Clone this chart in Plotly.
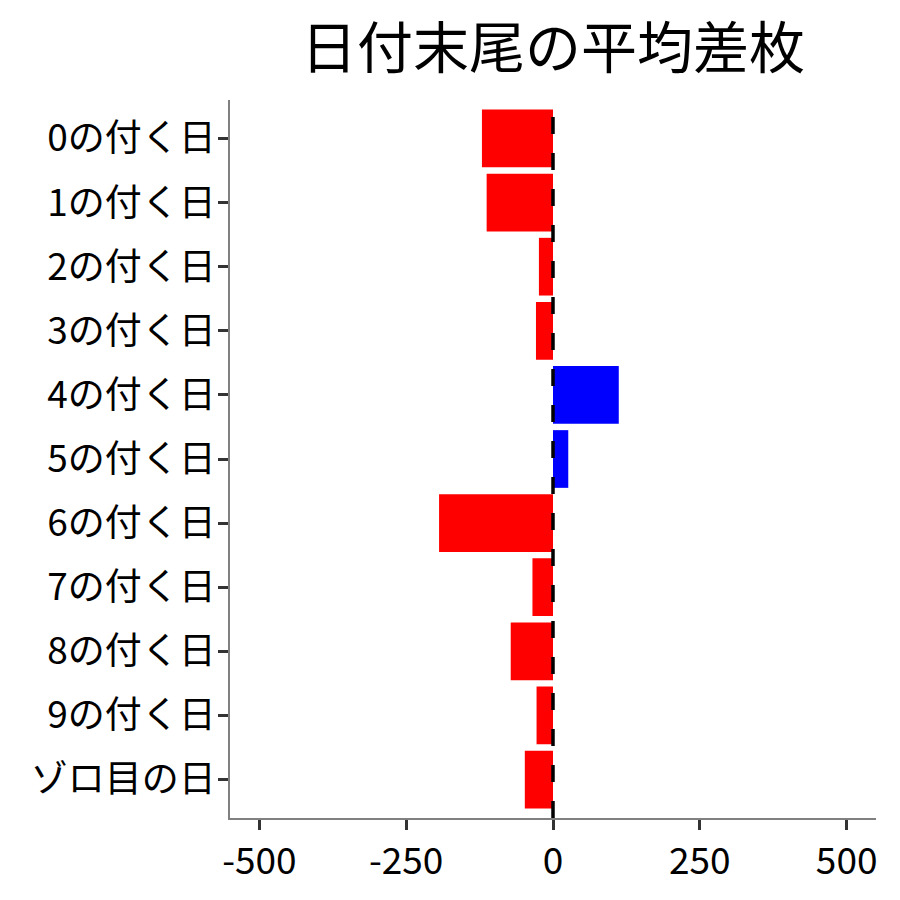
import plotly.graph_objects as go

categories = ["0の付く日", "1の付く日", "2の付く日", "3の付く日", "4の付く日",
              "5の付く日", "6の付く日", "7の付く日", "8の付く日", "9の付く日", "ゾロ目の日"]
values = [-121, -113, -24, -29, 112, 26, -194, -35, -72, -28, -48]
tick_vals = [-500, -250, 0, 250, 500]
tick_text = ["-500", "-250", "0", "250", "500"]
title_text = "日付末尾の平均差枚"

colors = ["#0000FF" if v > 0 else "#FF0000" for v in values]

FONT = "Noto Sans CJK JP"

fig = go.Figure()
fig.add_trace(go.Bar(
    x=values, y=categories, orientation="h",
    marker=dict(color=colors, line=dict(width=0)),
    width=0.9, showlegend=False,
))

fig.add_shape(type="line", xref="x", yref="paper", x0=0, x1=0, y0=0, y1=1,
              line=dict(color="black", width=3.5, dash="17px,19px"), layer="above")

fig.update_layout(
    width=892, height=892,
    paper_bgcolor="white", plot_bgcolor="white",
    margin=dict(l=222, r=24, t=92, b=82),
    font=dict(family=FONT, color="black"),
    title=dict(text=title_text, x=0.5, xref="paper", xanchor="center",
               y=1 - 40 / 892, yanchor="middle", font=dict(size=56, family=FONT, color="black")),
    bargap=0.1,
)
fig.update_xaxes(
    range=[-550, 550], tickvals=tick_vals, ticktext=tick_text,
    showgrid=False, zeroline=False,
    showline=True, linecolor="#808080", linewidth=1.5,
    ticks="outside", ticklen=10, tickwidth=3, tickcolor="#333333",
    tickfont=dict(size=37, family=FONT, color="black"),
)
fig.update_yaxes(
    categoryorder="array", categoryarray=categories, autorange=False,
    range=[10.6, -0.6],
    showgrid=False, zeroline=False,
    showline=True, linecolor="#808080", linewidth=1.5,
    ticks="outside", ticklen=10, tickwidth=3, tickcolor="#333333",
    tickfont=dict(size=37, family=FONT, color="black"),
    ticklabelstandoff=-5,
)

fig.write_html("out.html")
